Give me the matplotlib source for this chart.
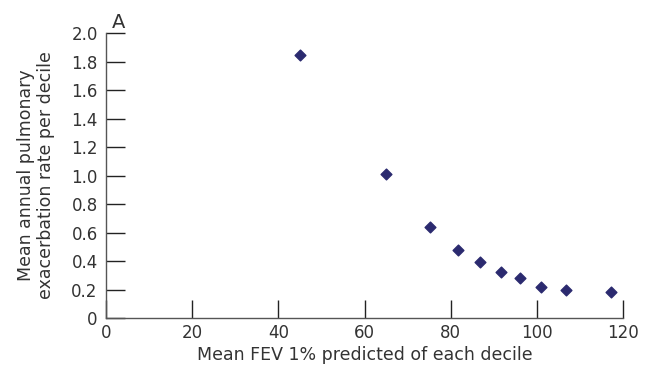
import numpy as np
import matplotlib.pyplot as plt

# decile means
fev_pct = [45.0, 65.0, 75.2, 81.8, 86.8, 91.8, 96.1, 100.9, 106.7, 117.3]
exac_rate = [1.846, 1.01, 0.641, 0.477, 0.391, 0.321, 0.279, 0.216, 0.194, 0.180]

x_ticks = [0, 20, 40, 60, 80, 100, 120]
y_ticks = [0, 0.2, 0.4, 0.6, 0.8, 1.0, 1.2, 1.4, 1.6, 1.8, 2.0]
y_labels = ['0', '0.2', '0.4', '0.6', '0.8', '1.0', '1.2', '1.4', '1.6', '1.8', '2.0']

plt.rcParams['font.family'] = ['DejaVu Sans']

fig = plt.figure(figsize=(6.48, 3.70), dpi=100)
ax = fig.add_axes([0.1636, 0.1405, 0.7978, 0.7703])

ax.scatter(fev_pct, exac_rate, marker='D', s=30, color='#2b2a6f', zorder=3)

ax.set_xlim(0, 120)
ax.set_ylim(0, 2.0)
ax.set_xticks(x_ticks)
ax.set_yticks(y_ticks)
ax.set_yticklabels(y_labels)

for s in ['top', 'right']:
    ax.spines[s].set_visible(False)
for s in ['left', 'bottom']:
    ax.spines[s].set_color('#555555')
    ax.spines[s].set_linewidth(1.0)

ax.tick_params(axis='y', direction='in', length=14, width=1, color='#222222',
               labelsize=12, labelcolor='#333333', pad=6)
ax.tick_params(axis='x', direction='in', length=13, width=1, color='#222222',
               labelsize=12, labelcolor='#333333', pad=4)

ax.set_xlabel('Mean FEV 1% predicted of each decile', fontsize=12.5, color='#333333', labelpad=3)
ax.set_ylabel('Mean annual pulmonary\nexacerbation rate per decile', fontsize=12.5,
              color='#333333', labelpad=12, linespacing=1.1)

ax.text(0.012, 1.005, 'A', transform=ax.transAxes, fontsize=14, color='#333333',
        ha='left', va='bottom')

fig.savefig('out.png', dpi=100)
